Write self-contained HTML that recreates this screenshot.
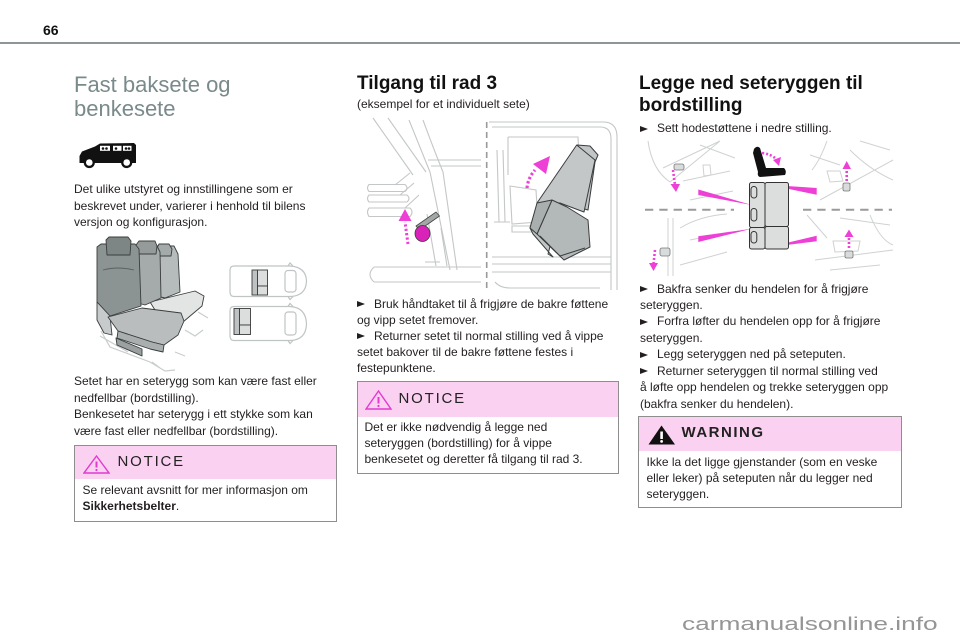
<!DOCTYPE html>
<html>
<head>
<meta charset="utf-8">
<style>
*{margin:0;padding:0;box-sizing:border-box;}
html,body{width:960px;height:640px;overflow:hidden;background:#fff;}
body{position:relative;font-family:"Liberation Sans",Arial,sans-serif;color:#231f20;}
.abs{position:absolute;}
.p{position:absolute;font-size:12px;line-height:16.5px;white-space:nowrap;color:#231f20;}
.tri{display:inline-block;width:0;height:0;border-left:8.5px solid #231f20;border-top:3.6px solid transparent;border-bottom:3.6px solid transparent;margin-right:9px;vertical-align:0.5px;}
.h2{position:absolute;font-weight:bold;font-size:19px;line-height:22px;white-space:nowrap;color:#111;}
.box{position:absolute;border:1.5px solid #8e8e8e;background:#fff;}
.boxh{position:absolute;left:0;top:0;right:0;background:#fbd1f2;}
.boxt{position:absolute;font-size:15px;line-height:15px;letter-spacing:1.8px;white-space:nowrap;color:#222;}
.boxb{position:absolute;font-size:12px;line-height:16.3px;white-space:nowrap;color:#231f20;}
</style>
</head>
<body>

<!-- header -->
<div class="abs" style="left:43px;top:22px;font-size:14px;line-height:16px;font-weight:bold;color:#111;">66</div>
<div class="abs" style="left:0;top:42px;width:960px;height:2px;background:#8d9797;"></div>

<!-- graphics -->
<svg class="abs" style="left:0;top:0" width="960" height="640" viewBox="0 0 960 640">
  <!-- van icon -->
  <path d="M79.5,163 L79.5,156 L82,151.5 L95,146.5 L100,143.5 L134,143 L136,145 L136,163 Z" fill="#111"/>
  <rect x="100" y="145.8" width="10" height="5" fill="#fff"/>
  <rect x="113" y="145.8" width="8.5" height="5" fill="#fff"/>
  <rect x="123" y="145.8" width="8.5" height="5" fill="#fff"/>
  <circle cx="103" cy="148.5" r="1.3" fill="#111"/><circle cx="106.5" cy="148.5" r="1.3" fill="#111"/>
  <circle cx="116" cy="148.5" r="1.3" fill="#111"/><circle cx="126" cy="148.5" r="1.3" fill="#111"/><circle cx="129" cy="148.5" r="1.3" fill="#111"/>
  <circle cx="89.3" cy="162.5" r="5.6" fill="#111"/><circle cx="89.3" cy="162.5" r="3.3" fill="#fff"/>
  <circle cx="126.7" cy="162.5" r="5.6" fill="#111"/><circle cx="126.7" cy="162.5" r="3.3" fill="#fff"/>

  <!-- left seat illustration -->
  <g fill="none" stroke="#c9cdcd" stroke-width="1.2">
    <path d="M101,331 L110,347 L150,362 L165,371 L175,370 M100,336 L128,352 M152,362 L160,368 M185,330 L195,336 L203,330 M198,312 L208,318 M175,352 L185,356"/>
  </g>
  <g stroke="#3a3d3d" stroke-width="0.9" stroke-linejoin="round">
    <!-- far cushion -->
    <path d="M150,302 L195,291 L204,296 L202,306 L183,322 L160,318 Z" fill="#e3e5e5"/>
    <!-- seat 3 back -->
    <path d="M155,252 L158,246 L174,246 L178,254 L180,292 L165,298 L156,296 Z" fill="#b6bbbb"/>
    <path d="M157,248 L159,244 L169,244 L172,249 L171,256 L158,256 Z" fill="#a4aaaa"/>
    <!-- seat 2 back -->
    <path d="M133,250 L137,244 L156,244 L160,252 L161,298 L145,305 L138,303 Z" fill="#a5abab"/>
    <path d="M136,245 L139,241 L155,241 L157,246 L156,254 L137,254 Z" fill="#959b9b"/>
    <!-- seat 1 back -->
    <path d="M97,247 L101,244 L135,244 L139,249 L141,306 L110,316 L97,302 Z" fill="#8c9393"/>
    <path d="M106,240 L109,237 L128,237 L131,241 L130,255 L107,255 Z" fill="#7e8585"/>
    <path d="M103,270 Q118,266 134,270" fill="none" stroke="#5a6060"/>
    <!-- left side panel -->
    <path d="M97,302 L110,316 L112,335 L104,333 L97,320 Z" fill="#c7cbcb"/>
    <!-- front cushion -->
    <path d="M108,317 L142,308 L181,313 L184,321 L178,335 L164,345 L152,342 L118,331 Z" fill="#b9bdbd"/>
    <path d="M118,331 L152,342 L164,345 L163,352 L150,349 L117,338 Z" fill="#a9aeae"/>
    <!-- base dark panel -->
    <path d="M116,338 L142,349 L142,356 L117,345 Z" fill="#9ba1a1"/>
  </g>

  <!-- car top views -->
  <g fill="none" stroke="#bfc4c4" stroke-width="1.2">
    <path d="M234,266 L290,266 Q306,267 306.5,281 Q306,296 290,296.5 L234,296.5 Q230,296.5 230,292 L230,270.5 Q230,266 234,266 Z"/>
    <rect x="285" y="270.5" width="11" height="21.5" rx="3"/>
    <path d="M288,266 L290,263 L293,266 M288,296.5 L290,299.5 L293,296.5"/>
    <path d="M234,306.5 L290,306.5 Q306,307.5 306.5,324 Q306,340 290,340.5 L234,340.5 Q230,340.5 230,336 L230,311 Q230,306.5 234,306.5 Z"/>
    <rect x="285" y="312" width="11" height="23" rx="3"/>
    <path d="M288,306.5 L290,303.5 L293,306.5 M288,340.5 L290,343.5 L293,340.5"/>
  </g>
  <g stroke="#3a3a3a" stroke-width="0.9">
    <rect x="252" y="270" width="5.5" height="25" fill="#bfc2c2"/>
    <rect x="257.5" y="270" width="10" height="16" fill="#dcdede"/>
    <rect x="257.5" y="286" width="10" height="9" fill="#dcdede"/>
    <rect x="234" y="308.5" width="5.5" height="26" fill="#bfc2c2"/>
    <rect x="239.5" y="308.5" width="11" height="16.5" fill="#dcdede"/>
    <rect x="239.5" y="325" width="11" height="9.5" fill="#dcdede"/>
  </g>

  <!-- middle illustration: left part -->
  <g fill="none" stroke="#c3c7c7" stroke-width="1.1">
    <path d="M373,118 L413,175 M388,118 L426,172"/>
    <path d="M409,120 Q421,150 430,172 L450,270 M423,120 Q434,150 443,172 L457,270"/>
    <path d="M428,160 L481,160 M431,166 L481,166"/>
    <path d="M374,267 L481,267 M374,282 L481,282 M374,267 Q366,274.5 374,282"/>
    <path d="M369,184.5 L405,184.5 Q409,188 405,191.5 L369,191.5 Q366,188 369,184.5 Z"/>
    <path d="M369,195 L407,195 Q411,198.5 407,202 L369,202 Q366,198.5 369,195 Z"/>
    <path d="M369,208 L410,208 Q414,212 410,216.5 L369,216.5 Q366,212 369,208 Z"/>
    <path d="M395,185 L410,173 M400,195 L414,183 M405,208 L419,195"/>
    <path d="M427,214 L436,266 M441,228 L447,266 M425,262 L440,262"/>
  </g>
  <path d="M416,226 L436,212 L439.5,216 L419.5,230 Z" fill="#a2a7a7" stroke="#444" stroke-width="0.8"/>
  <ellipse cx="422.5" cy="233.5" rx="7.5" ry="8" fill="#d923b8" stroke="#3a3a3a" stroke-width="0.8"/>
  <path d="M408,244 L405,222" stroke="#ee3fd6" stroke-width="3" stroke-dasharray="2.2 2.2" fill="none"/>
  <path d="M398.5,221 L411.5,221 L405,209 Z" fill="#ee3fd6"/>

  <!-- dashed divider -->
  <path d="M486.7,122 L486.7,290" stroke="#9a9a9a" stroke-width="1.6" stroke-dasharray="6 4" fill="none"/>

  <!-- middle illustration: right part -->
  <g fill="none" stroke="#c3c7c7" stroke-width="1.1">
    <path d="M489,122 L603,122 Q617,122 617,137 L617,290"/>
    <path d="M492,127 L600,127 Q611,127 611,139 L611,290"/>
    <path d="M508,137 L578,137 L580,182 M508,137 L508,175"/>
    <path d="M492,257 L611,257 M492,264 L611,264 M492,272 L611,272 M495,282 Q500,288 510,288 L600,288"/>
    <path d="M497,150 L499,222 M503,150 L505,222 M494,222 L510,222"/>
    <path d="M510,186 L536,190 L538,222 L512,224 Z M512,226 L534,226 L534,232 L512,232 Z"/>
  </g>
  <g stroke="#3a3d3d" stroke-width="1" stroke-linejoin="round">
    <path d="M577,145 L590,146 L598,155 L595,162 L588,210 L560,202 L537,204 L530,228 L533,234 L553,257 L548,254 Z" fill="#c2c6c6"/>
    <path d="M576.7,145 L595,160 L584,212 L560,203 L537,203 Z" fill="#c3c7c7"/>
    <path d="M552,200 L567,207 L588,220 L590,247 L564,260 L537,234 Z" fill="#b3b8b8"/>
    <path d="M537,203 L552,200 L537,234 L530,228 Z" fill="#a9aeae"/>
    <path d="M540,236 L560,256 L585,248" fill="none"/>
  </g>
  <path d="M527,188 Q528,178 535,170" stroke="#ee3fd6" stroke-width="3.2" stroke-dasharray="2.4 2.2" fill="none"/>
  <path d="M533,164 L550,156 L546,174 Z" fill="#ee3fd6"/>

  <!-- right illustration -->
  <g fill="none" stroke="#cfd2d2" stroke-width="1">
    <path d="M648,141 Q652,170 670,182 L720,141 M663,168 L720,141 M683,181 L730,171 M690,200 L733,191 M700,145 L735,158"/>
    <path d="M703,165 L710,165 L711,175 L704,176 Z"/>
    <path d="M668,218 L668,276 M673,218 L673,276 M680,228 Q700,216 727,214 M680,265 L727,252 M690,240 L730,232"/>
    <path d="M810,155 L840,165 M827,141 Q820,160 812,170 M850,150 Q870,170 893,180 M820,200 L893,160 M860,141 L890,150"/>
    <path d="M827,171 L840,171 L843,181 L830,182 Z"/>
    <path d="M807,215 L827,238 M840,218 L890,225 M815,260 L893,250 M830,270 L880,265 M870,215 Q880,240 893,245"/>
    <path d="M833,241 L860,241 L858,251 L835,252 Z"/>
  </g>
  <g fill="#d9dcdc" stroke="#777" stroke-width="0.8">
    <rect x="674" y="164" width="10" height="6" rx="2"/>
    <rect x="660" y="248" width="10" height="8" rx="2"/>
    <rect x="843" y="183" width="7" height="8" rx="1.5"/>
    <rect x="845" y="251" width="8" height="7" rx="1.5"/>
  </g>
  <!-- dashed horizontal -->
  <path d="M645,209.7 L734,209.7 M803,209.7 L892,209.7" stroke="#9a9a9a" stroke-width="2" stroke-dasharray="8.3 6" fill="none"/>
  <!-- magenta wedges -->
  <g fill="#ee3fd6">
    <path d="M698.3,189.5 L698.3,195 L751.7,205 Z"/>
    <path d="M698.3,236.3 L698.3,242 L751.7,228.7 Z"/>
    <path d="M768.3,184.7 L816.7,188 L816.7,194.7 Z"/>
    <path d="M768.3,247.3 L816.7,235.7 L816.7,241.3 Z"/>
  </g>
  <!-- seat block -->
  <g stroke="#333" stroke-width="1" fill="#dcdddd">
    <rect x="749.5" y="182.5" width="15.5" height="45" rx="2"/>
    <rect x="749.5" y="227.5" width="15.5" height="21.5" rx="2"/>
    <rect x="765" y="182.5" width="23.5" height="44" rx="2"/>
    <rect x="765" y="226.5" width="23.5" height="22.5" rx="2"/>
    <rect x="751" y="186.5" width="5.8" height="11.5" rx="2.8" fill="none"/>
    <rect x="751" y="208.5" width="5.8" height="12.5" rx="2.8" fill="none"/>
    <rect x="751" y="231.5" width="5.8" height="11.5" rx="2.8" fill="none"/>
  </g>
  <!-- black seat icon -->
  <path d="M754,149 Q757,145 760,148 L766,168 L784,168 Q787,171 785,175 L760,177 Q757,176 758,172 L753,153 Z" fill="#111"/>
  <!-- magenta small arrows -->
  <g stroke="#ee3fd6" stroke-width="2.6" stroke-dasharray="2 2" fill="none">
    <path d="M762,153 Q771,154 776,159"/>
    <path d="M673,170 L675,185"/>
    <path d="M655,250 L653.5,264"/>
    <path d="M846.7,181 L846.7,168"/>
    <path d="M849,248 L849,236"/>
  </g>
  <g fill="#ee3fd6">
    <path d="M773,160 L781,157 L779,166 Z"/>
    <path d="M670.5,184 L680,184 L676,192 Z"/>
    <path d="M649,263 L658,263 L653.5,271 Z"/>
    <path d="M842.5,169 L851,169 L846.7,161 Z"/>
    <path d="M844.5,237 L853.5,237 L849,229.5 Z"/>
  </g>
</svg>

<!-- left column -->
<div class="abs" style="left:74px;top:73px;font-size:22px;line-height:23.5px;color:#7a8a8b;white-space:nowrap;">Fast baksete og<br>benkesete</div>
<div class="p" style="left:74px;top:181px;">Det ulike utstyret og innstillingene som er<br>beskrevet under, varierer i henhold til bilens<br>versjon og konfigurasjon.</div>
<div class="p" style="left:74px;top:373px;">Setet har en seterygg som kan være fast eller<br>nedfellbar (bordstilling).<br>Benkesetet har seterygg i ett stykke som kan<br>være fast eller nedfellbar (bordstilling).</div>

<div class="box" style="left:74px;top:445px;width:263px;height:77px;">
  <div class="boxh" style="height:33px;"></div>
  <svg class="abs" style="left:7.5px;top:8.5px" width="27" height="19" viewBox="0 0 27 19">
    <polygon points="13.5,1 26,18 1,18" fill="none" stroke="#e23ad0" stroke-width="1.4"/>
    <line x1="13.5" y1="6.5" x2="13.5" y2="12.5" stroke="#e23ad0" stroke-width="2"/>
    <circle cx="13.5" cy="15" r="1.1" fill="#e23ad0"/>
  </svg>
  <div class="boxt" style="left:42.5px;top:7.7px;">NOTICE</div>
  <div class="boxb" style="left:7.5px;top:36.2px;line-height:16px;">Se relevant avsnitt for mer informasjon om<br><b>Sikkerhetsbelter</b>.</div>
</div>

<!-- middle column -->
<div class="h2" style="left:357px;top:73px;">Tilgang til rad 3</div>
<div class="p" style="left:357px;top:96px;">(eksempel for et individuelt sete)</div>
<div class="p" style="left:357px;top:295.5px;line-height:16.2px;"><span class="tri"></span>Bruk håndtaket til å frigjøre de bakre føttene<br>og vipp setet fremover.<br><span class="tri"></span>Returner setet til normal stilling ved å vippe<br>setet bakover til de bakre føttene festes i<br>festepunktene.</div>

<div class="box" style="left:357px;top:381px;width:262px;height:93px;">
  <div class="boxh" style="height:34.5px;"></div>
  <svg class="abs" style="left:6.5px;top:7.5px" width="27" height="20" viewBox="0 0 27 20">
    <polygon points="13.5,1 26,19 1,19" fill="none" stroke="#e23ad0" stroke-width="1.4"/>
    <line x1="13.5" y1="7" x2="13.5" y2="13.5" stroke="#e23ad0" stroke-width="2"/>
    <circle cx="13.5" cy="16" r="1.1" fill="#e23ad0"/>
  </svg>
  <div class="boxt" style="left:40.5px;top:8.5px;">NOTICE</div>
  <div class="boxb" style="left:6.5px;top:36.5px;line-height:16px;">Det er ikke nødvendig å legge ned<br>seteryggen (bordstilling) for å vippe<br>benkesetet og deretter få tilgang til rad 3.</div>
</div>

<!-- right column -->
<div class="h2" style="left:639px;top:73px;">Legge ned seteryggen til<br>bordstilling</div>
<div class="p" style="left:640px;top:120px;"><span class="tri"></span>Sett hodestøttene i nedre stilling.</div>
<div class="p" style="left:640px;top:280.5px;line-height:16.45px;"><span class="tri"></span>Bakfra senker du hendelen for å frigjøre<br>seteryggen.<br><span class="tri"></span>Forfra løfter du hendelen opp for å frigjøre<br>seteryggen.<br><span class="tri"></span>Legg seteryggen ned på seteputen.<br><span class="tri"></span>Returner seteryggen til normal stilling ved<br>å løfte opp hendelen og trekke seteryggen opp<br>(bakfra senker du hendelen).</div>

<div class="box" style="left:638px;top:416px;width:264px;height:92px;">
  <div class="boxh" style="height:33.5px;"></div>
  <svg class="abs" style="left:8.5px;top:7.5px" width="28" height="21" viewBox="0 0 28 21">
    <polygon points="13.5,0.5 27,19.5 0.5,19.5" fill="#111"/>
    <rect x="12.3" y="6.5" width="2.6" height="7.5" fill="#fff"/>
    <circle cx="13.6" cy="16.4" r="1.4" fill="#fff"/>
  </svg>
  <div class="boxt" style="left:42.5px;top:7.5px;font-weight:bold;letter-spacing:1.5px;">WARNING</div>
  <div class="boxb" style="left:7.5px;top:36.5px;line-height:16.3px;">Ikke la det ligge gjenstander (som en veske<br>eller leker) på seteputen når du legger ned<br>seteryggen.</div>
</div>

<!-- watermark -->
<div class="abs" style="left:682px;top:613.7px;font-size:18px;line-height:20px;color:#959595;white-space:nowrap;transform:scaleX(1.46);transform-origin:0 0;">carmanualsonline.info</div>

</body>
</html>
